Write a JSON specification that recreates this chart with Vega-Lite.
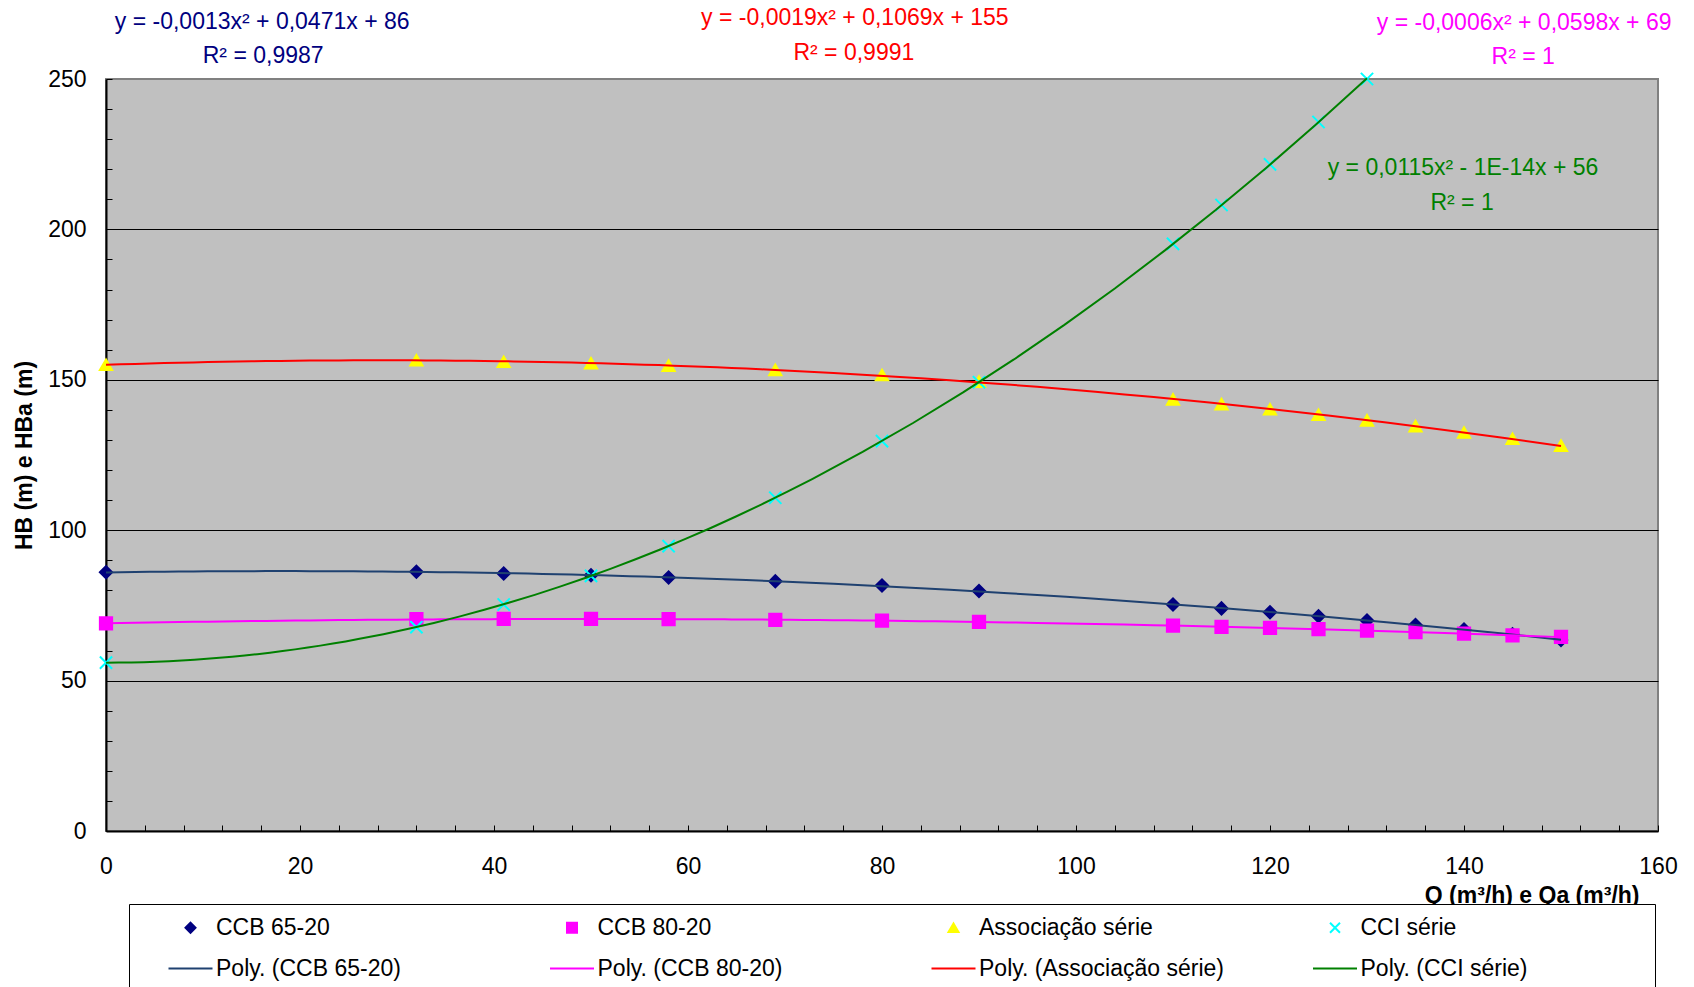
{
  "$schema": "https://vega.github.io/schema/vega-lite/v6.json",
  "width": 1552,
  "height": 752,
  "autosize": {"type": "none"},
  "padding": {"left": 106, "top": 79, "right": 36, "bottom": 156},
  "background": "white",
  "config": {
    "font": "Liberation Sans",
    "view": {"fill": "#C0C0C0", "stroke": "#808080", "strokeWidth": 2}
  },
  "datasets": {
    "pts": [
      {"serie": "CCB 65-20", "trend": "Poly. (CCB 65-20)", "Q": 0, "H": 86},
      {"serie": "CCB 65-20", "trend": "Poly. (CCB 65-20)", "Q": 32, "H": 86.2},
      {"serie": "CCB 65-20", "trend": "Poly. (CCB 65-20)", "Q": 41, "H": 85.6},
      {"serie": "CCB 65-20", "trend": "Poly. (CCB 65-20)", "Q": 50, "H": 85},
      {"serie": "CCB 65-20", "trend": "Poly. (CCB 65-20)", "Q": 58, "H": 84.3},
      {"serie": "CCB 65-20", "trend": "Poly. (CCB 65-20)", "Q": 69, "H": 83},
      {"serie": "CCB 65-20", "trend": "Poly. (CCB 65-20)", "Q": 80, "H": 81.6},
      {"serie": "CCB 65-20", "trend": "Poly. (CCB 65-20)", "Q": 90, "H": 79.8},
      {"serie": "CCB 65-20", "trend": "Poly. (CCB 65-20)", "Q": 110, "H": 75.3},
      {"serie": "CCB 65-20", "trend": "Poly. (CCB 65-20)", "Q": 115, "H": 74},
      {"serie": "CCB 65-20", "trend": "Poly. (CCB 65-20)", "Q": 120, "H": 72.7},
      {"serie": "CCB 65-20", "trend": "Poly. (CCB 65-20)", "Q": 125, "H": 71.4},
      {"serie": "CCB 65-20", "trend": "Poly. (CCB 65-20)", "Q": 130, "H": 70},
      {"serie": "CCB 65-20", "trend": "Poly. (CCB 65-20)", "Q": 135, "H": 68.5},
      {"serie": "CCB 65-20", "trend": "Poly. (CCB 65-20)", "Q": 140, "H": 67},
      {"serie": "CCB 65-20", "trend": "Poly. (CCB 65-20)", "Q": 145, "H": 65.4},
      {"serie": "CCB 65-20", "trend": "Poly. (CCB 65-20)", "Q": 150, "H": 63.5},
      {"serie": "CCB 80-20", "trend": "Poly. (CCB 80-20)", "Q": 0, "H": 69},
      {"serie": "CCB 80-20", "trend": "Poly. (CCB 80-20)", "Q": 32, "H": 70.4},
      {"serie": "CCB 80-20", "trend": "Poly. (CCB 80-20)", "Q": 41, "H": 70.5},
      {"serie": "CCB 80-20", "trend": "Poly. (CCB 80-20)", "Q": 50, "H": 70.5},
      {"serie": "CCB 80-20", "trend": "Poly. (CCB 80-20)", "Q": 58, "H": 70.4},
      {"serie": "CCB 80-20", "trend": "Poly. (CCB 80-20)", "Q": 69, "H": 70.2},
      {"serie": "CCB 80-20", "trend": "Poly. (CCB 80-20)", "Q": 80, "H": 69.9},
      {"serie": "CCB 80-20", "trend": "Poly. (CCB 80-20)", "Q": 90, "H": 69.5},
      {"serie": "CCB 80-20", "trend": "Poly. (CCB 80-20)", "Q": 110, "H": 68.3},
      {"serie": "CCB 80-20", "trend": "Poly. (CCB 80-20)", "Q": 115, "H": 67.9},
      {"serie": "CCB 80-20", "trend": "Poly. (CCB 80-20)", "Q": 120, "H": 67.5},
      {"serie": "CCB 80-20", "trend": "Poly. (CCB 80-20)", "Q": 125, "H": 67.1},
      {"serie": "CCB 80-20", "trend": "Poly. (CCB 80-20)", "Q": 130, "H": 66.6},
      {"serie": "CCB 80-20", "trend": "Poly. (CCB 80-20)", "Q": 135, "H": 66.1},
      {"serie": "CCB 80-20", "trend": "Poly. (CCB 80-20)", "Q": 140, "H": 65.6},
      {"serie": "CCB 80-20", "trend": "Poly. (CCB 80-20)", "Q": 145, "H": 65},
      {"serie": "CCB 80-20", "trend": "Poly. (CCB 80-20)", "Q": 150, "H": 64.5},
      {"serie": "Associação série", "trend": "Poly. (Associação série)", "Q": 0, "H": 155},
      {"serie": "Associação série", "trend": "Poly. (Associação série)", "Q": 32, "H": 156.5},
      {"serie": "Associação série", "trend": "Poly. (Associação série)", "Q": 41, "H": 156},
      {"serie": "Associação série", "trend": "Poly. (Associação série)", "Q": 50, "H": 155.5},
      {"serie": "Associação série", "trend": "Poly. (Associação série)", "Q": 58, "H": 154.7},
      {"serie": "Associação série", "trend": "Poly. (Associação série)", "Q": 69, "H": 153.3},
      {"serie": "Associação série", "trend": "Poly. (Associação série)", "Q": 80, "H": 151.6},
      {"serie": "Associação série", "trend": "Poly. (Associação série)", "Q": 90, "H": 149.4},
      {"serie": "Associação série", "trend": "Poly. (Associação série)", "Q": 110, "H": 143.5},
      {"serie": "Associação série", "trend": "Poly. (Associação série)", "Q": 115, "H": 141.9},
      {"serie": "Associação série", "trend": "Poly. (Associação série)", "Q": 120, "H": 140.2},
      {"serie": "Associação série", "trend": "Poly. (Associação série)", "Q": 125, "H": 138.4},
      {"serie": "Associação série", "trend": "Poly. (Associação série)", "Q": 130, "H": 136.5},
      {"serie": "Associação série", "trend": "Poly. (Associação série)", "Q": 135, "H": 134.6},
      {"serie": "Associação série", "trend": "Poly. (Associação série)", "Q": 140, "H": 132.5},
      {"serie": "Associação série", "trend": "Poly. (Associação série)", "Q": 145, "H": 130.4},
      {"serie": "Associação série", "trend": "Poly. (Associação série)", "Q": 150, "H": 128.1},
      {"serie": "CCI série", "trend": "Poly. (CCI série)", "Q": 0, "H": 56},
      {"serie": "CCI série", "trend": "Poly. (CCI série)", "Q": 32, "H": 67.8},
      {"serie": "CCI série", "trend": "Poly. (CCI série)", "Q": 41, "H": 75.3},
      {"serie": "CCI série", "trend": "Poly. (CCI série)", "Q": 50, "H": 84.8},
      {"serie": "CCI série", "trend": "Poly. (CCI série)", "Q": 58, "H": 94.7},
      {"serie": "CCI série", "trend": "Poly. (CCI série)", "Q": 69, "H": 110.8},
      {"serie": "CCI série", "trend": "Poly. (CCI série)", "Q": 80, "H": 129.6},
      {"serie": "CCI série", "trend": "Poly. (CCI série)", "Q": 90, "H": 149.2},
      {"serie": "CCI série", "trend": "Poly. (CCI série)", "Q": 110, "H": 195.2},
      {"serie": "CCI série", "trend": "Poly. (CCI série)", "Q": 115, "H": 208.1},
      {"serie": "CCI série", "trend": "Poly. (CCI série)", "Q": 120, "H": 221.6},
      {"serie": "CCI série", "trend": "Poly. (CCI série)", "Q": 125, "H": 235.7},
      {"serie": "CCI série", "trend": "Poly. (CCI série)", "Q": 130, "H": 250}
    ],
    "eq": [
      {"serie": "Poly. (CCB 65-20)", "Q": 16.1, "H": 269.1, "label": "y = -0,0013x² + 0,0471x + 86"},
      {"serie": "Poly. (CCB 65-20)", "Q": 16.2, "H": 257.5, "label": "R² = 0,9987"},
      {"serie": "Poly. (Associação série)", "Q": 77.2, "H": 270.3, "label": "y = -0,0019x² + 0,1069x + 155"},
      {"serie": "Poly. (Associação série)", "Q": 77.1, "H": 258.6, "label": "R² = 0,9991"},
      {"serie": "Poly. (CCB 80-20)", "Q": 146.2, "H": 268.5, "label": "y = -0,0006x² + 0,0598x + 69"},
      {"serie": "Poly. (CCB 80-20)", "Q": 146.1, "H": 257.4, "label": "R² = 1"},
      {"serie": "Poly. (CCI série)", "Q": 139.9, "H": 220.4, "label": "y = 0,0115x² - 1E-14x + 56"},
      {"serie": "Poly. (CCI série)", "Q": 139.8, "H": 208.8, "label": "R² = 1"}
    ]
  },
  "layer": [
    {
      "data": {"name": "pts"},
      "mark": {"type": "point", "filled": true, "size": 150, "strokeWidth": 2, "opacity": 1},
      "encoding": {
        "x": {
          "field": "Q", "type": "quantitative",
          "scale": {"domain": [0, 160], "nice": false, "zero": false},
          "axis": {
            "values": [0,4,8,12,16,20,24,28,32,36,40,44,48,52,56,60,64,68,72,76,80,84,88,92,96,100,104,108,112,116,120,124,128,132,136,140,144,148,152,156,160],
            "tickCount": 200,
            "labelExpr": "datum.value % 20 === 0 ? datum.label : ''",
            "labelOverlap": false, "labelFlush": false,
            "grid": false,
            "tickSize": -6, "tickColor": "black", "tickWidth": 1,
            "domainColor": "black", "domainWidth": 2,
            "labelFontSize": 23, "labelColor": "black", "labelPadding": 30,
            "title": "Q (m³/h) e Qa (m³/h)",
            "titleFontSize": 23, "titleFontWeight": "bold", "titleColor": "black",
            "titleX": 1533, "titleY": 64, "titleAlign": "right", "titleBaseline": "middle"
          }
        },
        "y": {
          "field": "H", "type": "quantitative",
          "scale": {"domain": [0, 250], "nice": false, "zero": false},
          "axis": {
            "values": [0,10,20,30,40,50,60,70,80,90,100,110,120,130,140,150,160,170,180,190,200,210,220,230,240,250],
            "tickCount": 200,
            "labelExpr": "datum.value % 50 === 0 ? datum.label : ''",
            "labelOverlap": false, "labelFlush": false,
            "grid": true, "gridColor": "black", "gridWidth": 1,
            "gridOpacity": {"condition": {"test": "datum.value % 50 === 0 && datum.value > 0 && datum.value < 250", "value": 1}, "value": 0},
            "tickSize": -6, "tickColor": "black", "tickWidth": 1,
            "domainColor": "black", "domainWidth": 2,
            "labelFontSize": 23, "labelColor": "black", "labelPadding": 26,
            "title": "HB (m) e HBa (m)",
            "titleFontSize": 23, "titleFontWeight": "bold", "titleColor": "black",
            "titleX": -82, "titleY": 376, "titleAngle": -90, "titleAlign": "center", "titleBaseline": "middle"
          }
        },
        "fill": {
          "field": "serie", "type": "nominal",
          "scale": {
            "domain": ["CCB 65-20", "CCB 80-20", "Associação série", "CCI série", "Poly. (CCB 65-20)", "Poly. (CCB 80-20)", "Poly. (Associação série)", "Poly. (CCI série)"],
            "range": ["#000080", "#FF00FF", "#FFFF00", "#00FFFF", "#000080", "#FF00FF", "#FF0000", "#008000"]
          },
          "legend": {
            "orient": "none", "legendX": 23, "legendY": 825,
            "direction": "horizontal", "columns": 4, "gridAlign": "all",
            "title": " ", "titleOrient": "left", "titleFontSize": 1, "titlePadding": 38,
            "labelFontSize": 23, "labelColor": "black", "labelLimit": 500, "labelOffset": 14,
            "labelExpr": "datum.label === 'Poly. (CCI série)' ? datum.label + '                  \u200b' : datum.label",
            "symbolSize": 100, "symbolStrokeWidth": 2,
            "rowPadding": 17, "columnPadding": 46.5,
            "padding": 12, "strokeColor": "black", "fillColor": "white"
          }
        },
        "stroke": {
          "field": "serie", "type": "nominal",
          "scale": {
            "domain": ["CCB 65-20", "CCB 80-20", "Associação série", "CCI série", "Poly. (CCB 65-20)", "Poly. (CCB 80-20)", "Poly. (Associação série)", "Poly. (CCI série)"],
            "range": ["#000080", "#FF00FF", "#FFFF00", "#00FFFF", "#1F4170", "#FF00FF", "#FF0000", "#008000"]
          },
          "legend": {
            "orient": "none", "legendX": 23, "legendY": 825,
            "direction": "horizontal", "columns": 4, "gridAlign": "all",
            "title": " ", "titleOrient": "left", "titleFontSize": 1, "titlePadding": 38,
            "labelFontSize": 23, "labelColor": "black", "labelLimit": 500, "labelOffset": 14,
            "labelExpr": "datum.label === 'Poly. (CCI série)' ? datum.label + '                  \u200b' : datum.label",
            "symbolSize": 100, "symbolStrokeWidth": 2,
            "rowPadding": 17, "columnPadding": 46.5,
            "padding": 12, "strokeColor": "black", "fillColor": "white"
          }
        },
        "shape": {
          "field": "serie", "type": "nominal",
          "scale": {
            "domain": ["CCB 65-20", "CCB 80-20", "Associação série", "CCI série", "Poly. (CCB 65-20)", "Poly. (CCB 80-20)", "Poly. (Associação série)", "Poly. (CCI série)"],
            "range": ["diamond", "square", "triangle-up", "M-1,-1L1,1M1,-1L-1,1", "M-4.4,0L4.4,0", "M-4.4,0L4.4,0", "M-4.4,0L4.4,0", "M-4.4,0L4.4,0"]
          },
          "legend": {
            "orient": "none", "legendX": 23, "legendY": 825,
            "direction": "horizontal", "columns": 4, "gridAlign": "all",
            "title": " ", "titleOrient": "left", "titleFontSize": 1, "titlePadding": 38,
            "labelFontSize": 23, "labelColor": "black", "labelLimit": 500, "labelOffset": 14,
            "labelExpr": "datum.label === 'Poly. (CCI série)' ? datum.label + '                  \u200b' : datum.label",
            "symbolSize": 100, "symbolStrokeWidth": 2,
            "rowPadding": 17, "columnPadding": 46.5,
            "padding": 12, "strokeColor": "black", "fillColor": "white"
          }
        }
      }
    },
    {
      "data": {"name": "pts"},
      "transform": [
        {"regression": "H", "on": "Q", "groupby": ["trend"], "method": "poly", "order": 2}
      ],
      "mark": {"type": "line", "strokeWidth": 2},
      "encoding": {
        "x": {"field": "Q", "type": "quantitative"},
        "y": {"field": "H", "type": "quantitative"},
        "stroke": {"field": "trend", "type": "nominal"}
      }
    },
    {
      "data": {"name": "eq"},
      "mark": {"type": "text", "fontSize": 23, "align": "center", "baseline": "middle"},
      "encoding": {
        "x": {"field": "Q", "type": "quantitative"},
        "y": {"field": "H", "type": "quantitative"},
        "text": {"field": "label"},
        "fill": {"field": "serie", "type": "nominal"}
      }
    }
  ]
}
